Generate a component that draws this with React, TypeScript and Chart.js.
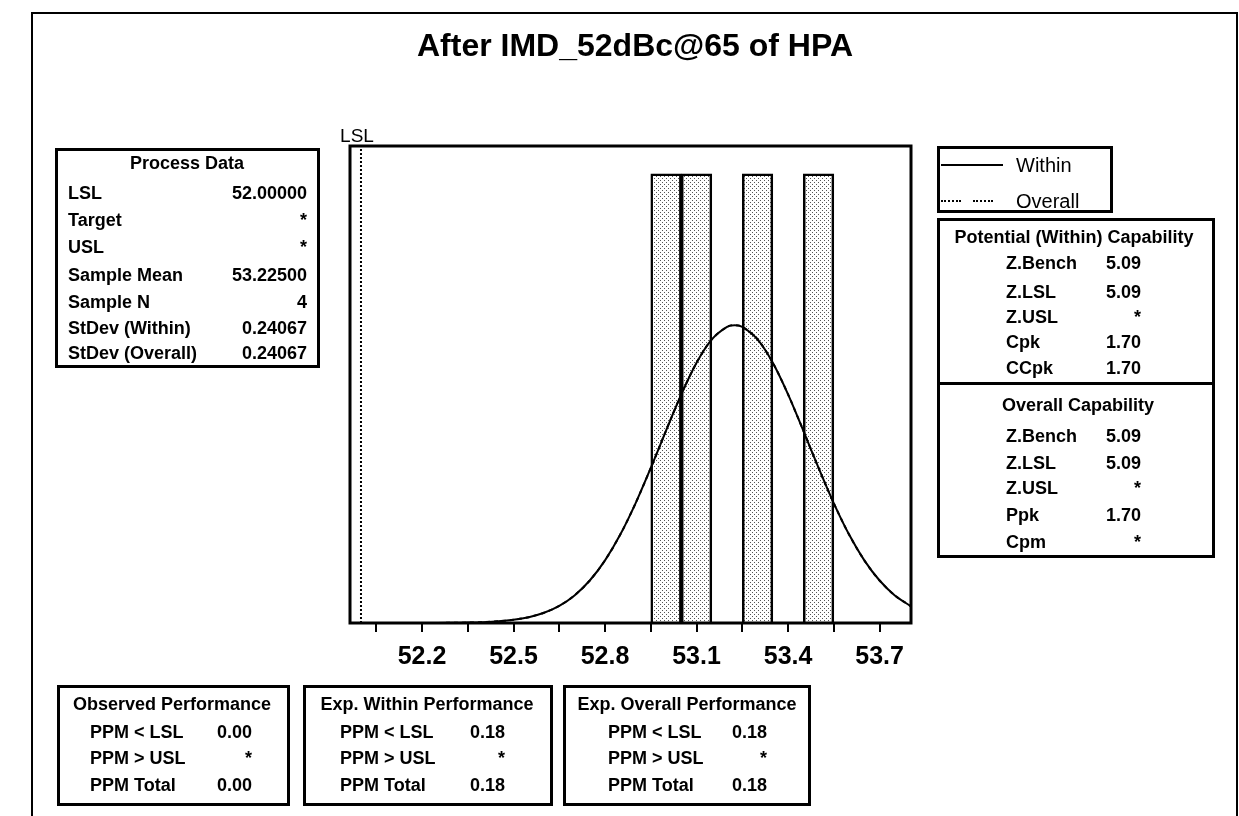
import React, { useEffect, useRef } from 'react';
import { Chart, registerables } from 'chart.js';

Chart.register(...registerables);

// ---------- data ----------
const TITLE = 'After IMD_52dBc@65 of HPA';
const LSL = 52.0;
const LSL_LABEL = 'LSL';
const X_MIN = 51.964;
const X_MAX = 53.803;
const Y_MAX = 1.062;

const BIN_MIDS = [53.0, 53.1, 53.3, 53.5];
const BIN_COUNTS = [1, 1, 1, 1];

const CURVE_X = [51.964, 52.0, 52.1, 52.2, 52.3, 52.35, 52.4, 52.45, 52.5, 52.55, 52.6, 52.65, 52.7, 52.75, 52.8, 52.85, 52.9, 52.95, 53.0, 53.05, 53.1, 53.15, 53.2, 53.225, 53.25, 53.3, 53.35, 53.4, 53.45, 53.5, 53.55, 53.6, 53.65, 53.7, 53.75, 53.803];
const CURVE_Y = [0, 0, 0, 0.0001, 0.0004, 0.0009, 0.0019, 0.0037, 0.0071, 0.013, 0.0228, 0.0382, 0.0614, 0.0946, 0.1395, 0.1969, 0.2664, 0.3452, 0.4283, 0.509, 0.5794, 0.6316, 0.6595, 0.6631, 0.6595, 0.6316, 0.5794, 0.509, 0.4283, 0.3452, 0.2664, 0.1969, 0.1395, 0.0946, 0.0614, 0.0371];

const X_TICKS = [52.05, 52.2, 52.35, 52.5, 52.65, 52.8, 52.95, 53.1, 53.25, 53.4, 53.55, 53.7];
const X_TICK_LABELS = ['52.2', '52.5', '52.8', '53.1', '53.4', '53.7'];

const LEGEND_LABELS = ['Within', 'Overall'];

const PROCESS_TITLE = 'Process Data';
const PROCESS_LABELS = ['LSL', 'Target', 'USL', 'Sample Mean', 'Sample N', 'StDev (Within)', 'StDev (Overall)'];
const PROCESS_VALUES = ['52.00000', '*', '*', '53.22500', '4', '0.24067', '0.24067'];

const POTENTIAL_TITLE = 'Potential (Within) Capability';
const POTENTIAL_LABELS = ['Z.Bench', 'Z.LSL', 'Z.USL', 'Cpk', 'CCpk'];
const POTENTIAL_VALUES = ['5.09', '5.09', '*', '1.70', '1.70'];

const OVERALL_TITLE = 'Overall Capability';
const OVERALL_LABELS = ['Z.Bench', 'Z.LSL', 'Z.USL', 'Ppk', 'Cpm'];
const OVERALL_VALUES = ['5.09', '5.09', '*', '1.70', '*'];

const PERF_LABELS = ['PPM < LSL', 'PPM > USL', 'PPM Total'];
const OBSERVED_TITLE = 'Observed Performance';
const OBSERVED_VALUES = ['0.00', '*', '0.00'];
const EXP_WITHIN_TITLE = 'Exp. Within Performance';
const EXP_WITHIN_VALUES = ['0.18', '*', '0.18'];
const EXP_OVERALL_TITLE = 'Exp. Overall Performance';
const EXP_OVERALL_VALUES = ['0.18', '*', '0.18'];

// ---------- helpers ----------
const FONT = '"Liberation Sans", Arial, sans-serif';

type TxtProps = { x: number; y: number; align?: 'left' | 'right' | 'center'; size?: number; bold?: boolean; children: React.ReactNode };
function Txt({ x, y, align = 'left', size = 18, bold = true, children }: TxtProps) {
  const lh = Math.round(size * 1.3);
  const style: React.CSSProperties = {
    position: 'absolute',
    top: y - lh / 2,
    height: lh,
    lineHeight: lh + 'px',
    fontSize: size,
    fontWeight: bold ? 700 : 400,
    whiteSpace: 'pre',
  };
  if (align === 'left') style.left = x;
  else if (align === 'right') {
    style.left = x - 400;
    style.width = 400;
    style.textAlign = 'right';
  } else {
    style.left = x - 400;
    style.width = 800;
    style.textAlign = 'center';
  }
  return <div style={style}>{children}</div>;
}

function Frame({ l, t, r, b, w = 3 }: { l: number; t: number; r: number; b: number; w?: number }) {
  return (
    <div
      style={{
        position: 'absolute',
        left: l,
        top: t,
        width: r - l,
        height: b - t,
        border: `${w}px solid #000`,
        boxSizing: 'border-box',
      }}
    />
  );
}

function Rows({ labels, values, ys, lx, vr }: { labels: string[]; values: string[]; ys: number[]; lx: number; vr: number }) {
  return (
    <>
      {labels.map((lab, i) => (
        <React.Fragment key={lab + i}>
          <Txt x={lx} y={ys[i]}>{lab}</Txt>
          <Txt x={vr} y={ys[i]} align="right">{values[i]}</Txt>
        </React.Fragment>
      ))}
    </>
  );
}

export default function App() {
  const ref = useRef<HTMLCanvasElement | null>(null);

  useEffect(() => {
    const canvas = ref.current;
    if (!canvas) return;
    const pc = document.createElement('canvas');
    pc.width = 4;
    pc.height = 4;
    const g = pc.getContext('2d')!;
    g.fillStyle = '#fff';
    g.fillRect(0, 0, 4, 4);
    g.fillStyle = '#555';
    g.fillRect(0, 0, 1, 1);
    g.fillRect(2, 2, 1, 1);
    const ctx0 = canvas.getContext('2d')!;
    const pattern = ctx0.createPattern(pc, 'repeat') || '#ccc';

    const curve = CURVE_X.map((x, i) => ({ x, y: CURVE_Y[i] }));

    const framePlugin = {
      id: 'frameAndLsl',
      afterDatasetsDraw(chart: any) {
        const { ctx, chartArea: a, scales } = chart;
        ctx.save();
        ctx.strokeStyle = '#000';
        ctx.lineWidth = 3;
        ctx.strokeRect(a.left, a.top, a.right - a.left, a.bottom - a.top);
        const x = scales.x.getPixelForValue(LSL);
        ctx.font = `19px ${FONT}`;
        ctx.fillStyle = '#000';
        ctx.textAlign = 'center';
        ctx.textBaseline = 'alphabetic';
        ctx.fillText(LSL_LABEL, x - 4, a.top - 4.5);
        ctx.restore();
      },
    };

    const chart = new Chart(canvas, {
      type: 'bar',
      data: {
        datasets: [
          {
            type: 'bar',
            label: 'Histogram',
            data: BIN_MIDS.map((x, i) => ({ x, y: BIN_COUNTS[i] })),
            backgroundColor: pattern as any,
            borderColor: '#000',
            borderWidth: 2.5,
            borderSkipped: 'start',
            barPercentage: 1,
            categoryPercentage: 1,
            order: 3,
          } as any,
          {
            type: 'line',
            label: LEGEND_LABELS[1],
            data: curve,
            borderColor: '#000',
            borderWidth: 2,
            borderDash: [4, 4],
            pointRadius: 0,
            tension: 0.3,
            fill: false,
            order: 2,
          } as any,
          {
            type: 'line',
            label: LEGEND_LABELS[0],
            data: curve,
            borderColor: '#000',
            borderWidth: 2,
            pointRadius: 0,
            tension: 0.3,
            fill: false,
            order: 1,
          } as any,
          {
            type: 'line',
            label: LSL_LABEL,
            data: [
              { x: LSL, y: 0 },
              { x: LSL, y: Y_MAX },
            ],
            borderColor: '#000',
            borderWidth: 2,
            borderDash: [2, 2],
            pointRadius: 0,
            tension: 0,
            fill: false,
            order: 0,
          } as any,
        ],
      },
      options: {
        responsive: false,
        animation: false,
        events: [],
        layout: { padding: { left: 350, right: 328, top: 146, bottom: 0 } },
        plugins: {
          legend: { display: false },
          tooltip: { enabled: false },
          title: { display: false },
        },
        scales: {
          x: {
            type: 'linear',
            position: 'bottom',
            min: X_MIN,
            max: X_MAX,
            offset: false,
            afterBuildTicks: (s: any) => {
              s.ticks = X_TICKS.map((v) => ({ value: v }));
            },
            afterFit: (s: any) => {
              s.height = 193;
            },
            ticks: {
              autoSkip: false,
              maxRotation: 0,
              minRotation: 0,
              padding: 10,
              color: '#000',
              font: { family: FONT, size: 25, weight: 'bold' },
              callback: (value: any) => {
                const v = Number(value);
                const hit = X_TICK_LABELS.find((l) => Math.abs(parseFloat(l) - v) < 1e-6);
                return hit ?? '';
              },
            },
            grid: {
              display: true,
              drawOnChartArea: false,
              drawTicks: true,
              tickLength: 9,
              color: '#000',
              lineWidth: 2,
              offset: false,
            },
            border: { display: false },
          } as any,
          y: { display: false, min: 0, max: Y_MAX },
        },
      } as any,
      plugins: [framePlugin],
    });
    return () => chart.destroy();
  }, []);

  return (
    <div
      style={{
        position: 'fixed',
        left: 0,
        top: 0,
        width: 1239,
        height: 816,
        background: '#fff',
        overflow: 'hidden',
        fontFamily: FONT,
        color: '#000',
      }}
    >
      <canvas ref={ref} width={1239} height={816} style={{ position: 'absolute', left: 0, top: 0, width: 1239, height: 816 }} />

      {/* outer frame */}
      <Frame l={31} t={12} r={1238} b={840} w={2} />

      {/* title */}
      <div
        style={{
          position: 'absolute',
          left: 635 - 400,
          width: 800,
          top: 29,
          height: 32,
          lineHeight: '32px',
          fontSize: 32,
          fontWeight: 700,
          textAlign: 'center',
          whiteSpace: 'pre',
        }}
      >
        {TITLE}
      </div>

      {/* Process Data */}
      <Frame l={55} t={148} r={320} b={368} />
      <Txt x={187} y={163} align="center">{PROCESS_TITLE}</Txt>
      <Rows labels={PROCESS_LABELS} values={PROCESS_VALUES} ys={[193, 220, 247, 275, 302, 328, 353]} lx={68} vr={307} />

      {/* legend */}
      <Frame l={937} t={146} r={1113} b={213} />
      <div style={{ position: 'absolute', left: 941, top: 164, width: 62, height: 2, background: '#000' }} />
      <div style={{ position: 'absolute', left: 941, top: 200, width: 20, height: 0, borderTop: '2px dotted #000' }} />
      <div style={{ position: 'absolute', left: 973, top: 200, width: 20, height: 0, borderTop: '2px dotted #000' }} />
      <Txt x={1016} y={165} size={20} bold={false}>{LEGEND_LABELS[0]}</Txt>
      <Txt x={1016} y={201} size={20} bold={false}>{LEGEND_LABELS[1]}</Txt>

      {/* Potential / Overall capability */}
      <Frame l={937} t={218} r={1215} b={558} />
      <div style={{ position: 'absolute', left: 937, top: 382, width: 278, height: 3, background: '#000' }} />
      <Txt x={1074} y={237} align="center">{POTENTIAL_TITLE}</Txt>
      <Rows labels={POTENTIAL_LABELS} values={POTENTIAL_VALUES} ys={[263, 292, 317, 342, 368]} lx={1006} vr={1141} />
      <Txt x={1078} y={405} align="center">{OVERALL_TITLE}</Txt>
      <Rows labels={OVERALL_LABELS} values={OVERALL_VALUES} ys={[436, 463, 488, 515, 542]} lx={1006} vr={1141} />

      {/* bottom performance boxes */}
      <Frame l={57} t={685} r={290} b={806} />
      <Txt x={172} y={704} align="center">{OBSERVED_TITLE}</Txt>
      <Rows labels={PERF_LABELS} values={OBSERVED_VALUES} ys={[732, 758, 785]} lx={90} vr={252} />

      <Frame l={303} t={685} r={553} b={806} />
      <Txt x={427} y={704} align="center">{EXP_WITHIN_TITLE}</Txt>
      <Rows labels={PERF_LABELS} values={EXP_WITHIN_VALUES} ys={[732, 758, 785]} lx={340} vr={505} />

      <Frame l={563} t={685} r={811} b={806} />
      <Txt x={687} y={704} align="center">{EXP_OVERALL_TITLE}</Txt>
      <Rows labels={PERF_LABELS} values={EXP_OVERALL_VALUES} ys={[732, 758, 785]} lx={608} vr={767} />
    </div>
  );
}
